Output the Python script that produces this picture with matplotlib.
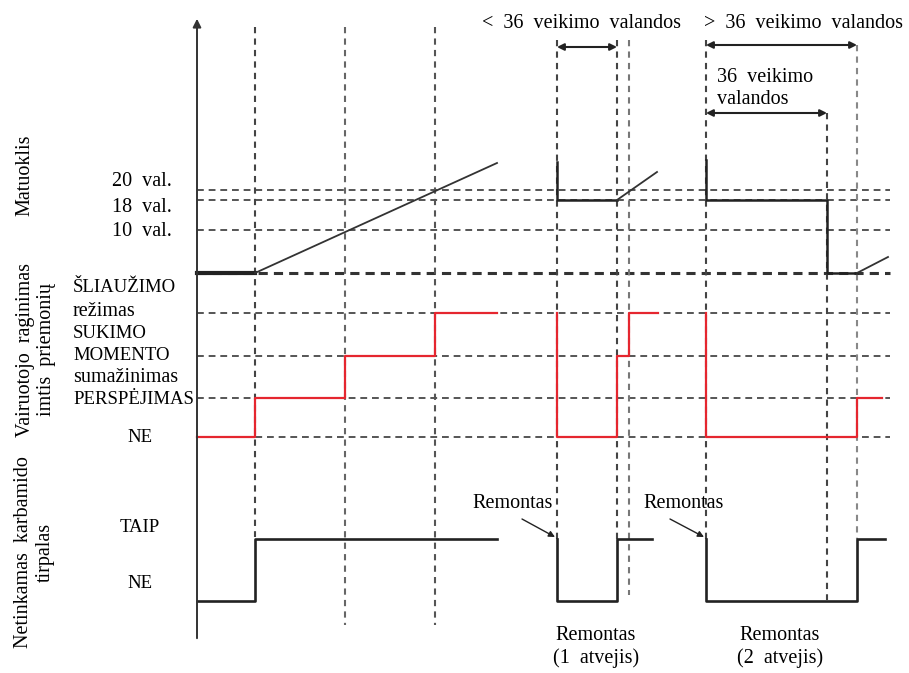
import matplotlib
matplotlib.use('Agg')
from matplotlib import pyplot as plt

plt.rcParams['font.family'] = ['Liberation Serif', 'DejaVu Serif']

# diagram units: x = time position, y = track position (top down)
AXIS_X = 197
RIGHT_X = 890

# event times (vertical guides): (time, top, bottom, colour)
guides = [(255, 27, 537, '#444444'), (345, 27, 625, '#666666'), (435, 27, 625, '#555555'),
          (557, 40, 539, '#444444'), (617, 40, 539, '#444444'), (629, 40, 595, '#777777'),
          (706, 40, 539, '#444444'), (827, 113, 600, '#444444'), (857, 45, 539, '#888888')]

# gauge track ("Matuoklis")
gauge_names = ['20  val.', '18  val.', '10  val.']
gauge_pos = [190, 200, 230]
gauge_base = 273
gauge_segments = [
    ([197, 255, 497], [273, 273, 163]),
    ([557, 557, 617, 657], [162, 200, 200, 172]),
    ([706, 706, 827, 827, 857, 888], [160, 200, 200, 273, 273, 257]),
]

# driver warning track (level index, steps-post)
warn_names = ['NE', 'PERSPĖJIMAS', 'SUKIMO\nMOMENTO\nsumažinimas', 'ŠLIAUŽIMO\nrežimas']
warn_pos = [437, 398, 356, 313]
warn_segments = [
    ([197, 255, 345, 435, 497], [0, 1, 2, 3, 3]),
    ([557, 557, 617, 629, 658], [3, 0, 2, 3, 3]),
    ([706, 706, 857, 882], [3, 0, 1, 1]),
]

# bad urea track
urea_names = ['NE', 'TAIP']
urea_pos = [601, 539]
urea_segments = [
    ([197, 255, 497], [0, 1, 1]),
    ([557, 557, 617, 652], [1, 0, 1, 1]),
    ([706, 706, 857, 885], [1, 0, 1, 1]),
]

fig = plt.figure(figsize=(9.09, 6.73), dpi=100)
ax = fig.add_axes([0, 0, 1, 1])
ax.set_xlim(0, 909)
ax.set_ylim(673, 0)
ax.axis('off')

dash = dict(linestyle=(0, (3.5, 2.5)), linewidth=1.4)
FS = 14.5
FSC = 13.5

# horizontal guides
for y in gauge_pos + warn_pos:
    ax.plot([AXIS_X, RIGHT_X], [y, y], color='#555555', **dash)
ax.plot([AXIS_X, RIGHT_X], [gauge_base, gauge_base], color='#333333',
        linestyle=(0, (3, 2)), linewidth=2.2)

# vertical guides
for x, top, bot, c in guides:
    ax.plot([x, x], [top, bot], color=c, linestyle=(0, (3, 2.5)), linewidth=1.5)

# main axis with arrow
ax.annotate('', xy=(AXIS_X, 16), xytext=(AXIS_X, 641),
            arrowprops=dict(arrowstyle='-|>', color='#333333', lw=1.4, mutation_scale=12))

# gauge signal
for i, (xs, ys) in enumerate(gauge_segments):
    if i == 0:
        ax.plot(xs[:2], ys[:2], color='#222222', linewidth=3)
        ax.plot(xs[1:], ys[1:], color='#333333', linewidth=1.3)
    else:
        ax.plot(xs[:-1], ys[:-1], color='#222222', linewidth=1.8)
        ax.plot(xs[-2:], ys[-2:], color='#333333', linewidth=1.3)

# warning signal
for xs, lv in warn_segments:
    ax.plot(xs, [warn_pos[k] for k in lv], drawstyle='steps-post',
            color='#e5262f', linewidth=1.6)

# urea signal
for xs, lv in urea_segments:
    ax.plot(xs, [urea_pos[k] for k in lv], drawstyle='steps-post',
            color='#222222', linewidth=1.9)

# left labels
for name, y in zip(gauge_names, [182, 207, 232]):
    ax.text(172, y, name, ha='right', va='center', fontsize=FS)
warn_lines = ['ŠLIAUŽIMO', 'režimas', 'SUKIMO', 'MOMENTO', 'sumažinimas', 'PERSPĖJIMAS']
for line, y in zip(warn_lines, [288, 311, 333, 355, 377, 399]):
    ax.text(73, y, line, ha='left', va='center', fontsize=FSC if line.isupper() else FS)
ax.text(140, 438, urea_names[0], ha='center', va='center', fontsize=FSC)
ax.text(140, 528, urea_names[1], ha='center', va='center', fontsize=FSC)
ax.text(140, 583, urea_names[0], ha='center', va='center', fontsize=FSC)

ax.text(25, 175, 'Matuoklis', rotation=90, ha='center', va='center', fontsize=FS)
ax.text(36, 350, 'Vairuotojo  raginimas\nimtis  priemonių', rotation=90,
        ha='center', va='center', fontsize=FS, linespacing=1.2)
ax.text(34, 552, 'Netinkamas  karbamido\ntirpalas', rotation=90,
        ha='center', va='center', fontsize=FS, linespacing=1.2)

# top spans
ax.text(582, 24, '<  36  veikimo  valandos', ha='center', va='center', fontsize=FS)
ax.text(803, 24, '>  36  veikimo  valandos', ha='center', va='center', fontsize=FS)
ax.text(717, 78, '36  veikimo', ha='left', va='center', fontsize=FS)
ax.text(717, 100, 'valandos', ha='left', va='center', fontsize=FS)
arr = dict(arrowstyle='<|-|>', color='#222222', lw=1.5, mutation_scale=10, shrinkA=0, shrinkB=0)
ax.annotate('', xy=(557, 47), xytext=(617, 47), arrowprops=arr)
ax.annotate('', xy=(706, 45), xytext=(857, 45), arrowprops=arr)
ax.annotate('', xy=(706, 113), xytext=(827, 113), arrowprops=arr)

# repair callouts
ax.text(513, 503, 'Remontas', ha='center', va='center', fontsize=FS)
ax.text(684, 503, 'Remontas', ha='center', va='center', fontsize=FS)
pt = dict(arrowstyle='-|>', color='#222222', lw=1.0, mutation_scale=9, shrinkA=0, shrinkB=0)
ax.annotate('', xy=(555, 537), xytext=(522, 519), arrowprops=pt)
ax.annotate('', xy=(704, 537), xytext=(670, 519), arrowprops=pt)

ax.text(596, 635, 'Remontas', ha='center', va='center', fontsize=FS)
ax.text(596, 658, '(1  atvejis)', ha='center', va='center', fontsize=FS)
ax.text(780, 635, 'Remontas', ha='center', va='center', fontsize=FS)
ax.text(780, 658, '(2  atvejis)', ha='center', va='center', fontsize=FS)

fig.savefig('out.png', dpi=100)
